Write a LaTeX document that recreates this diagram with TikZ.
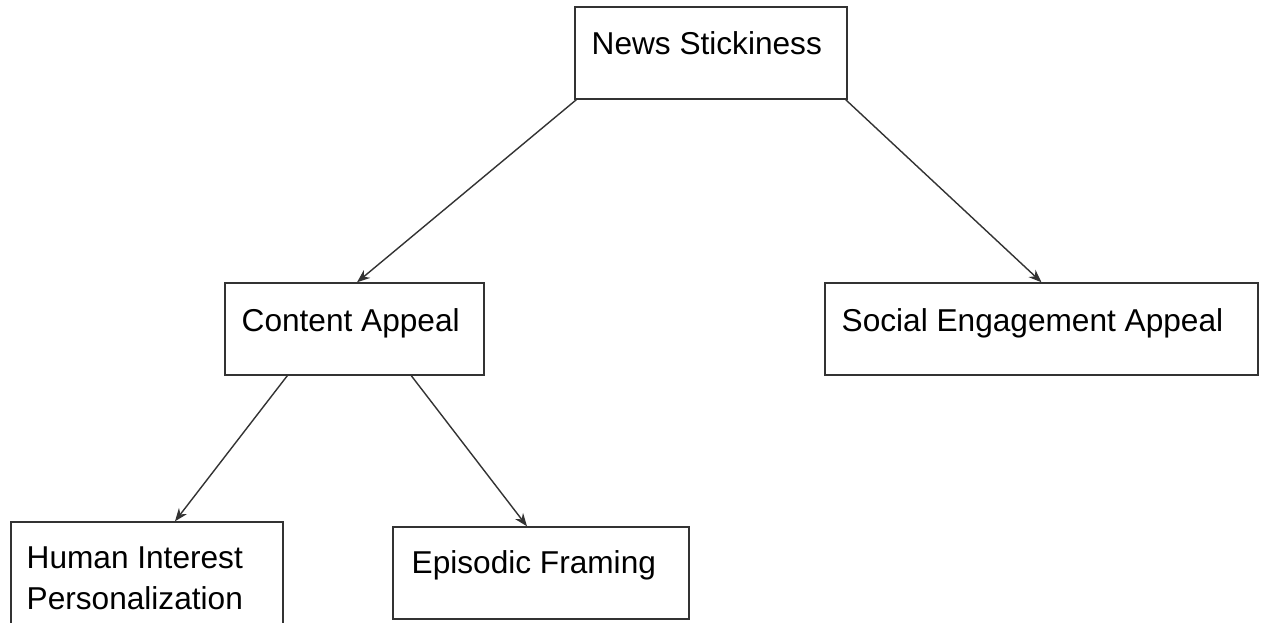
\documentclass[tikz,border=0pt]{standalone}
\usepackage{fontspec}
\setmainfont{Liberation Sans}
\usetikzlibrary{arrows.meta,positioning}

\begin{document}
\begin{tikzpicture}[
    x=0.02cm, y=-0.02cm,
    box/.style={rectangle, draw=black!80, line width=0.8pt, inner sep=0pt},
    boxtext/.style={anchor=base west, inner sep=0pt, align=left, font=\fontsize{18}{23}\selectfont},
    arrow/.style={draw=black!80, line width=0.8pt, -{Stealth[length=2.6mm,width=2mm]}}
]
\useasboundingbox (0,0) rectangle (1264,622);
\clip (0,0) rectangle (1264,622);

% Boxes
\node[box, minimum width=5.44cm, minimum height=1.84cm] (news) at (711,53) {};
\node[box, minimum width=5.18cm, minimum height=1.84cm] (content) at (354.5,329) {};
\node[box, minimum width=8.66cm, minimum height=1.84cm] (social) at (1041.5,329) {};
\node[box, minimum width=5.44cm, minimum height=2.36cm] (human) at (147,581) {};
\node[box, minimum width=5.92cm, minimum height=1.84cm] (episodic) at (541,573) {};

% Texts
\node[boxtext] (newsText) at ([shift={(0.34cm,-0.96cm)}]news.north west) {News Stickiness};
\node[boxtext] (contentText) at ([shift={(0.34cm,-0.98cm)}]content.north west) {Content Appeal};
\node[boxtext] (socialText) at ([shift={(0.34cm,-0.98cm)}]social.north west) {Social Engagement Appeal};
\node[boxtext] (humanText) at ([shift={(0.32cm,-1.76cm)}]human.north west) {Human Interest\\Personalization};
\node[boxtext] (episodicText) at ([shift={(0.38cm,-0.94cm)}]episodic.north west) {Episodic Framing};

% Relationships
\draw[arrow] ([xshift=0.04cm]news.south west) -- ([xshift=0.05cm]content.north);
\draw[arrow] ([xshift=-0.04cm]news.south east) -- (social.north);
\draw[arrow] ([xshift=1.26cm]content.south west) -- ([xshift=0.56cm]human.north);
\draw[arrow] ([xshift=3.74cm]content.south west) -- ([xshift=-0.28cm]episodic.north);

\end{tikzpicture}
\end{document}
